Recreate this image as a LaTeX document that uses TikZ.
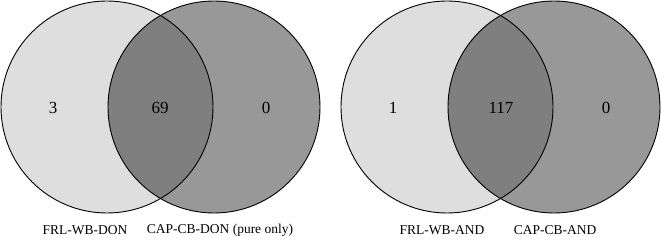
\documentclass[tikz,border=0pt]{standalone}
\usepackage{fontspec}
\setmainfont{Liberation Serif}
\definecolor{setA}{HTML}{DEDEDE}
\definecolor{setB}{HTML}{989898}
\definecolor{setAB}{HTML}{7F7F7F}
\begin{document}
\begin{tikzpicture}[x=1pt,y=-1pt,
  num/.style={font=\fontsize{17}{20}\selectfont, inner sep=0pt},
  lab/.style={font=\fontsize{13.5}{16}\selectfont, inner sep=0pt},
  ring/.style={draw=black, line width=0.9pt}]
\useasboundingbox (0,0) rectangle (661,240);
% left diagram
\coordinate (a1) at (107,107);
\coordinate (b1) at (214,107);
\fill[setA] (a1) circle (106);
\fill[setB] (b1) circle (106);
\begin{scope}
  \clip (a1) circle (106);
  \fill[setAB] (b1) circle (106);
\end{scope}
\draw[ring] (a1) circle (106);
\draw[ring] (b1) circle (106);
\node[num] (n1) at (53,108) {3};
\node[num] (n2) at (160,108) {69};
\node[num] (n3) at (266,108) {0};
\node[lab] (l1) at (85,230) {FRL-WB-DON};
\node[lab] (l2) at (220,230) {CAP-CB-DON (pure only)};
% right diagram
\coordinate (a2) at (447,107);
\coordinate (b2) at (554,107);
\fill[setA] (a2) circle (106);
\fill[setB] (b2) circle (106);
\begin{scope}
  \clip (a2) circle (106);
  \fill[setAB] (b2) circle (106);
\end{scope}
\draw[ring] (a2) circle (106);
\draw[ring] (b2) circle (106);
\node[num] (m1) at (393,108) {1};
\node[num] (m2) at (501,108) {117};
\node[num] (m3) at (606,108) {0};
\node[lab] (k1) at (442,230) {FRL-WB-AND};
\node[lab] (k2) at (555,230) {CAP-CB-AND};
\end{tikzpicture}
\end{document}
